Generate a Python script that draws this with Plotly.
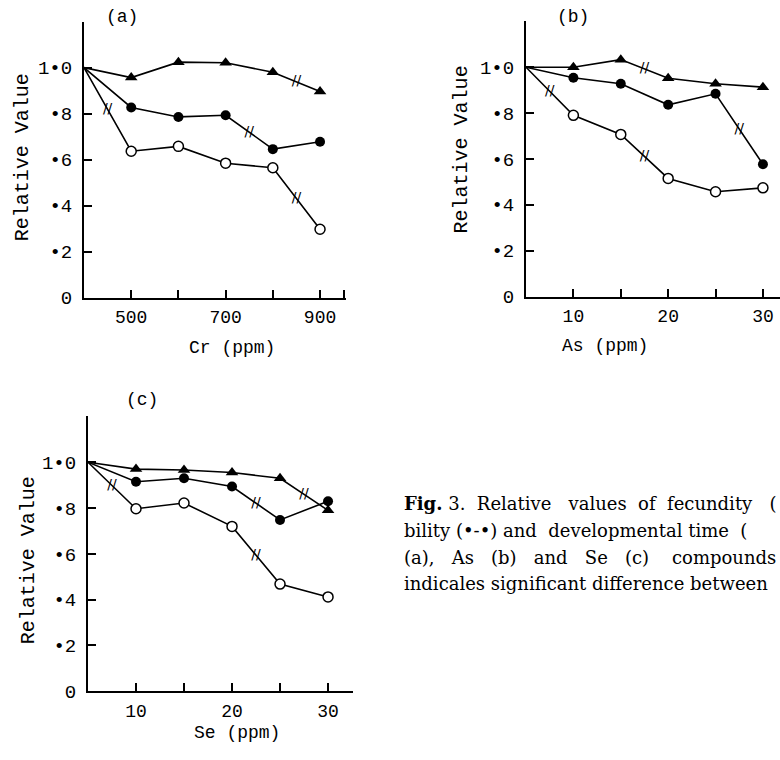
import plotly.graph_objects as go

W, H = 780, 760

# ---------------- data ----------------
cr_ppm = [400, 500, 600, 700, 800, 900]
cr_dev = [1.0, 0.957, 1.024, 1.021, 0.980, 0.896]
cr_via = [1.0, 0.827, 0.786, 0.793, 0.646, 0.678]
cr_fec = [1.0, 0.637, 0.658, 0.585, 0.565, 0.298]
cr_sig_dev = [4]
cr_sig_via = [3]
cr_sig_fec = [0, 4]

as_ppm = [5, 10, 15, 20, 25, 30]
as_dev = [1.0, 1.000, 1.033, 0.952, 0.928, 0.913]
as_via = [1.0, 0.954, 0.928, 0.836, 0.884, 0.577]
as_fec = [1.0, 0.790, 0.707, 0.515, 0.457, 0.474]
as_sig_dev = [2]
as_sig_via = [4]
as_sig_fec = [0, 2]

se_ppm = [5, 10, 15, 20, 25, 30]
se_dev = [1.0, 0.970, 0.966, 0.955, 0.930, 0.790]
se_via = [1.0, 0.915, 0.930, 0.894, 0.748, 0.830]
se_fec = [1.0, 0.797, 0.822, 0.720, 0.468, 0.412]
se_sig_dev = [4]
se_sig_via = [3]
se_sig_fec = [0, 3]

y_tickvals = [0, 0.2, 0.4, 0.6, 0.8, 1.0, 1.2]
y_ticktext = ["0", "•2", "•4", "•6", "•8", "1•0", ""]

cr_tickvals = [500, 600, 700, 800, 900, 950]
cr_ticktext = ["500", "", "700", "", "900", ""]
as_tickvals = [10, 15, 20, 25, 30]
as_ticktext = ["10", "", "20", "", "30"]
se_tickvals = [10, 15, 20, 25, 30, 32.5]
se_ticktext = ["10", "", "20", "", "30", ""]

MONO = "Liberation Mono"
SERIF = "DejaVu Serif"

fig = go.Figure()


def add_series(xa, ya, xs, ys, sig, kind):
    fig.add_trace(go.Scatter(x=xs, y=ys, mode="lines", xaxis=xa, yaxis=ya,
                             line=dict(color="black", width=1.6),
                             hoverinfo="skip"))
    if kind == "dev":
        mk = dict(symbol="triangle-up", size=11, color="black")
    elif kind == "via":
        mk = dict(symbol="circle", size=10, color="black")
    else:
        mk = dict(symbol="circle", size=10, color="white",
                  line=dict(color="black", width=1.5))
    fig.add_trace(go.Scatter(x=xs[1:], y=ys[1:], mode="markers", xaxis=xa,
                             yaxis=ya, marker=mk, cliponaxis=False))
    mx = [(xs[i] + xs[i + 1]) / 2 for i in sig]
    my = [(ys[i] + ys[i + 1]) / 2 for i in sig]
    fig.add_trace(go.Scatter(x=mx, y=my, mode="text", text=["//"] * len(mx),
                             xaxis=xa, yaxis=ya,
                             textfont=dict(family="DejaVu Sans", size=14,
                                           color="black"),
                             textposition="middle center"))


for xs, dev, via, fec, sd, sv, sf, xa, ya in [
    (cr_ppm, cr_dev, cr_via, cr_fec, cr_sig_dev, cr_sig_via, cr_sig_fec, "x", "y"),
    (as_ppm, as_dev, as_via, as_fec, as_sig_dev, as_sig_via, as_sig_fec, "x2", "y2"),
    (se_ppm, se_dev, se_via, se_fec, se_sig_dev, se_sig_via, se_sig_fec, "x3", "y3"),
]:
    add_series(xa, ya, xs, fec, sf, "fec")
    add_series(xa, ya, xs, via, sv, "via")
    add_series(xa, ya, xs, dev, sd, "dev")


def dx(a, b):
    return [a / W, min(b / W, 1.0)]


def dy(top, bottom):
    return [1 - bottom / H, 1 - top / H]


def xax(domain, rng, tv, tt, anchor):
    return dict(domain=domain, range=rng, anchor=anchor, tickvals=tv,
                ticktext=tt, ticks="inside", ticklen=8, tickwidth=2,
                tickcolor="black", showline=True, linewidth=2,
                linecolor="black", showgrid=False, zeroline=False,
                ticklabelstandoff=2,
                tickfont=dict(family=MONO, size=18, color="black"))


def yax(domain, anchor):
    return dict(domain=domain, range=[0, 1.2], anchor=anchor,
                tickvals=y_tickvals, ticktext=y_ticktext, ticks="inside",
                ticklen=8, tickwidth=2, tickcolor="black", showline=True,
                linewidth=2, linecolor="black", showgrid=False,
                zeroline=False, ticklabelstandoff=6,
                tickfont=dict(family=MONO, size=19, color="black"))


def ann(text, x, y, size=20, angle=0, family=MONO, xanchor="center"):
    return dict(text=text, x=x / W, y=1 - y / H, xref="paper", yref="paper",
                showarrow=False, textangle=angle, xanchor=xanchor,
                yanchor="middle",
                font=dict(family=family, size=size, color="black"))


NB = "\u00a0"
annotations = [
    ann("(a)", 122, 17, 18),
    ann("(b)", 573, 17, 18),
    ann("(c)", 142, 407, 18),
    ann("Relative Value", 22, 160, 20, -90),
    ann("Relative Value", 461, 152, 20, -90),
    ann("Relative Value", 28, 570, 20, -90),
    ann("Cr (ppm)", 232, 354, 18),
    ann("As (ppm)", 605, 352, 18),
    ann("Se (ppm)", 237, 746, 18),
    ann("<b>Fig.</b> 3." + NB + " Relative" + NB + NB + " values" + NB + " of"
        + NB + " fecundity" + NB + NB + " (",
        402, 512, 18, 0, SERIF, "left"),
    ann("bility (•-•) and" + NB + " developmental time" + NB + " (",
        402, 540, 18, 0, SERIF, "left"),
    ann("(a)," + NB * 2 + " As" + NB * 2 + " (b)" + NB * 2 + " and" + NB * 2
        + " Se" + NB * 2 + " (c)" + NB * 3 + " compounds",
        402, 567, 18, 0, SERIF, "left"),
    ann("indicales significant difference between",
        402, 594, 18, 0, SERIF, "left"),
]

fig.update_layout(
    width=W, height=H,
    margin=dict(l=0, r=0, t=0, b=0),
    paper_bgcolor="white", plot_bgcolor="white",
    showlegend=False,
    xaxis=xax(dx(84, 346), [400, 955], cr_tickvals, cr_ticktext, "y"),
    yaxis=yax(dy(22, 303), "x"),
    xaxis2=xax(dx(526, 780), [5, 31.8], as_tickvals, as_ticktext, "y2"),
    yaxis2=yax(dy(21.7, 301.7), "x2"),
    xaxis3=xax(dx(88, 353), [5, 32.6], se_tickvals, se_ticktext, "y3"),
    yaxis3=yax(dy(423.7, 703.3), "x3"),
    annotations=annotations,
)

fig.write_html("out.html",
               config={"displayModeBar": False},
               post_script="document.body.style.margin='0px';"
                           "document.body.style.overflow='hidden';")
